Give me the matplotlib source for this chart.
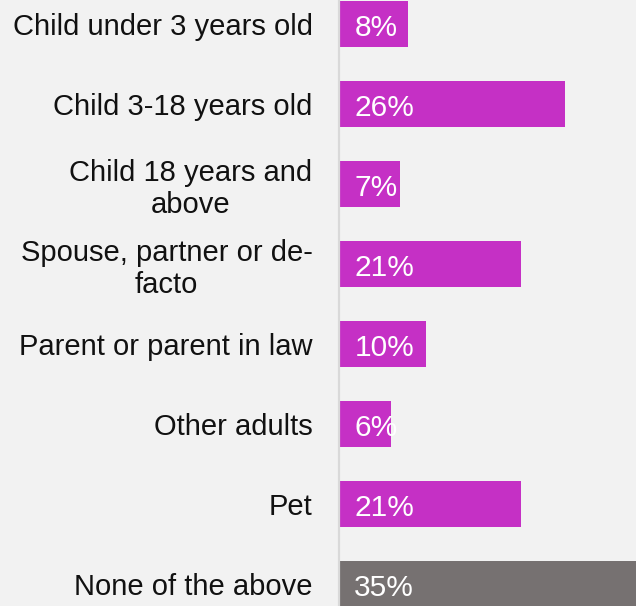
import matplotlib as mpl
import matplotlib.pyplot as plt

mpl.rcParams.update({
    "font.family": ["Liberation Sans", "DejaVu Sans"],
    "font.size": 21,
})

categories = [
    "Child under 3 years old",
    "Child 3-18 years old",
    "Child 18 years and\nabove",
    "Spouse, partner or de-\nfacto",
    "Parent or parent in law",
    "Other adults",
    "Pet",
    "None of the above",
]
values = [8, 26, 7, 21, 10, 6, 21, 35]
value_labels = ["8%", "26%", "7%", "21%", "10%", "6%", "21%", "35%"]

bg = "#F2F2F2"
magenta = "#C530C5"
grey = "#767171"
colors = [magenta] * 7 + [grey]

fig = plt.figure(figsize=(6.36, 6.06), dpi=100, facecolor=bg)
ax = fig.add_axes([339 / 636, 0, 297 / 636, 1])
ax.set_facecolor(bg)

ypos = list(range(len(categories)))
ax.barh(ypos, values, height=0.575, color=colors, zorder=2)

for y, lab in zip(ypos, value_labels):
    ax.annotate(lab, (0, y), xytext=(11, -1), textcoords="offset points",
                ha="left", va="center_baseline", color="white", fontsize=21.5, zorder=3)

ax.set_xlim(0, 34.2)
ax.set_ylim(7.275, -0.3)

ax.set_yticks(ypos)
ax.set_yticklabels(categories, fontsize=21, multialignment="center",
                   linespacing=1.2, color="#111111")
ax.tick_params(axis="y", length=0, pad=19)
ax.set_xticks([])

for s in ["top", "right", "bottom"]:
    ax.spines[s].set_visible(False)
ax.spines["left"].set_color("#D9D9D9")
ax.spines["left"].set_linewidth(1.6)
ax.spines["left"].set_zorder(4)

fig.savefig("out.png", dpi=100, facecolor=bg)
